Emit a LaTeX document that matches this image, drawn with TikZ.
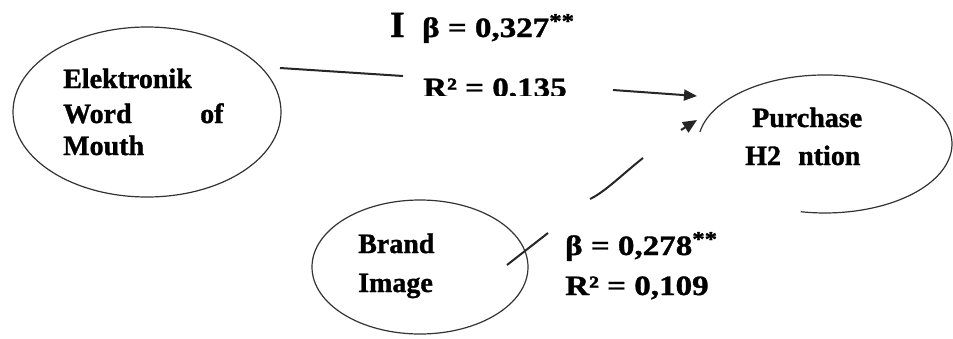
\documentclass[tikz,border=0pt]{standalone}
\usepackage{fontspec}
\setmainfont{Liberation Serif}[BoldFeatures={FakeBold=1.2}]
\newfontfamily\numfont{Liberation Serif}[FakeStretch=1.18, BoldFeatures={FakeBold=1.2}]
\usetikzlibrary{shapes.geometric,arrows.meta}
\newcommand{\stars}{\textsuperscript{\fontsize{21}{21}\selectfont **}}
\begin{document}
\begin{tikzpicture}[x=1pt,y=-1pt,
  lbl/.style={font=\fontsize{28}{30}\selectfont\bfseries, inner sep=0pt, anchor=base west},
  numlbl/.style={font=\numfont\fontsize{28}{30}\selectfont\bfseries, inner sep=0pt, anchor=base west},
  big/.style={font=\fontsize{37}{40}\selectfont\bfseries, inner sep=0pt, anchor=base west},
  oval/.style={ellipse, draw=black!80, line width=1.2pt, inner sep=0pt},
  link/.style={draw=black!85, line width=2pt},
  tip/.style={-{Triangle[length=13pt,width=11pt]}},
  bigtip/.style={-{Triangle[length=14pt,width=12pt]}}
]
\fill[white] (0,0) rectangle (953,338);
\useasboundingbox (0,0) rectangle (953,338);

% constructs
\node[oval, minimum width=268pt, minimum height=170pt] (ewom) at (147,112) {};
\node[oval, minimum width=216pt, minimum height=134pt] (brand) at (420,267) {};
% purchase intention: outline drawn as an open arc
\node[ellipse, inner sep=0pt, minimum width=254pt, minimum height=138pt] (pi) at (825,144) {};
\draw[draw=black!80, line width=1.2pt] (699.9,132) arc[start angle=190, end angle=461, x radius=127, y radius=69];

% construct labels
\node[lbl] (t1) at (63,88) {Elektronik};
\node[lbl] (t2) at (63,123) {Word};
\node[lbl] (t3) at (200,123) {of};
\node[lbl] (t4) at (63,155) {Mouth};
\node[lbl] (t5) at (752,127) {Purchase};
\node[lbl] (t6) at (745,165) {H2};
\node[lbl] (t7) at (798,165) {ntion};
\node[lbl] (t8) at (358,253) {Brand};
\node[lbl] (t9) at (358,292) {Image};

% path coefficients
\node[big] (h1) at (390,37) {I};
\node[numlbl] (b1) at (422,37) {β = 0,327\stars};
\begin{scope}
  \clip (400,60) rectangle (600,95);
  \node[numlbl] (r1) at (423,97) {R² = 0,135};
\end{scope}
\node[numlbl] (b2) at (565,255) {β = 0,278\stars};
\node[numlbl] (r2) at (565,295) {R² = 0,109};

% path fragments
\coordinate (a0) at (280,68);
\coordinate (a1) at (403,76);
\coordinate (a2) at (613,90);
\coordinate (a3) at (697,96);
\coordinate (c0) at (681,130);
\coordinate (c1) at (697,120);
\coordinate (d0) at (590,199);
\coordinate (d1) at (643,158);
\coordinate (e0) at (507,265);
\coordinate (e1) at (548,233);

\draw[link] (a0) -- (a1);
\draw[link, tip] (a2) -- (a3);
\draw[link, bigtip] (c0) -- (c1);
\draw[link] (d0) .. controls (605,192) and (625,172) .. (d1);
\draw[link] (e0) -- (e1);
\end{tikzpicture}
\end{document}
